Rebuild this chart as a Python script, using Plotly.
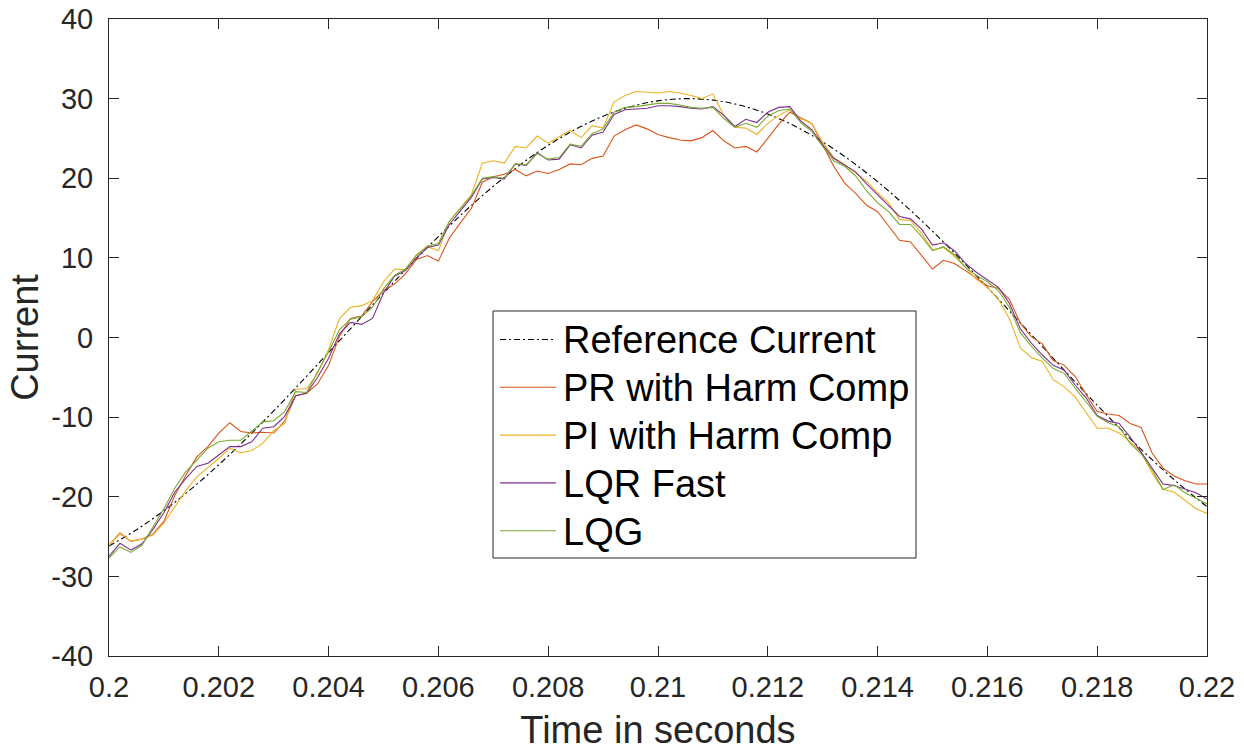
import numpy as np
import plotly.graph_objects as go

# sample instants (s)
t_ref = np.linspace(0.2, 0.22, 41)
t_meas = np.linspace(0.2, 0.22, 101)

ref_current = [-26.2, -24.15, -21.75, -19.01, -15.98, -12.70, -9.22, -5.60, -1.88, 1.86,
               5.57, 9.20, 12.68, 15.96, 18.99, 21.74, 24.14, 26.16, 27.79, 28.98,
               29.72, 30.00, 29.81, 29.16, 28.06, 26.52, 24.57, 22.24, 19.57, 16.59,
               13.35, 9.91, 6.31, 2.60, -1.13, -4.85, -8.50, -12.02, -15.35, -18.45, -21.25]

pr_harm = [-26.1, -24.6, -25.6, -25.3, -24.7, -23.1, -19.8, -17.3, -15.0, -13.7,
           -12.0, -10.7, -11.8, -12.0, -11.9, -12.0, -10.5, -7.3, -7.0, -5.8,
           -3.5, 0.2, 2.4, 2.7, 4.5, 5.9, 6.7, 8.0, 9.8, 10.3,
           9.6, 12.5, 14.4, 16.2, 19.5, 20.2, 20.5, 21.1, 20.3, 20.9,
           20.6, 21.1, 21.8, 21.7, 22.5, 22.8, 25.3, 26.1, 26.7, 26.2,
           25.5, 25.1, 24.8, 24.7, 25.1, 26.0, 24.7, 23.8, 24.0, 23.3,
           25.0, 26.8, 28.3, 27.6, 26.9, 24.2, 21.5, 19.4, 18.1, 16.6,
           15.8, 14.0, 12.2, 12.0, 10.3, 8.6, 9.7, 9.3, 8.4, 7.5,
           6.5, 6.2, 4.8, 1.8, 0.1, -0.8, -2.9, -3.5, -4.9, -7.2,
           -9.3, -9.6, -9.8, -10.8, -11.3, -14.5, -16.4, -17.4, -18.0, -18.4, -18.4]

pi_harm = [-26.1, -24.5, -25.6, -25.3, -24.8, -23.3, -21.25, -19.2, -17.5, -16.4,
           -15.2, -13.9, -14.5, -14.2, -13.3, -11.7, -10.8, -6.5, -6.4, -4.5,
           -1.5, 2.4, 3.8, 4.0, 4.6, 7.0, 8.6, 8.5, 10.4, 11.4,
           10.9, 14.6, 16.2, 17.9, 21.9, 22.2, 21.9, 24.0, 23.8, 25.3,
           24.4, 25.2, 26.0, 25.1, 26.6, 26.3, 29.6, 30.4, 30.9, 30.8,
           30.7, 30.9, 30.7, 30.4, 30.0, 30.6, 27.9, 26.4, 26.3, 25.5,
           26.9, 27.9, 28.6, 27.5, 26.9, 24.5, 22.6, 21.7, 20.7, 19.6,
           18.2, 16.9, 14.8, 14.7, 13.1, 11.0, 11.3, 10.2, 8.8, 7.3,
           6.3, 4.8, 2.4, -1.3, -2.5, -3.0, -5.3, -6.2, -7.5, -9.4,
           -11.4, -11.4, -12.0, -13.1, -14.4, -17.0, -19.1, -19.4, -20.5, -21.5, -22.1]

lqr_fast = [-27.5, -25.85, -26.7, -25.9, -24.1, -22.0, -19.4, -17.7, -16.2, -15.8,
            -14.75, -13.7, -13.7, -13.1, -11.4, -11.2, -9.9, -7.3, -7.0, -5.0,
            -2.6, 0.5, 1.9, 1.65, 2.4, 5.6, 7.7, 8.4, 10.0, 11.3,
            11.6, 14.2, 15.9, 17.6, 19.9, 20.1, 19.9, 21.8, 21.6, 23.2,
            22.3, 22.4, 24.2, 23.8, 25.4, 25.8, 28.0, 28.6, 28.7, 28.8,
            29.1, 29.1, 29.0, 28.8, 28.7, 29.0, 27.9, 26.5, 27.4, 27.0,
            28.3, 28.9, 29.0, 27.2, 26.1, 24.2, 22.5, 21.6, 20.8, 19.3,
            17.9, 16.6, 15.2, 14.9, 13.6, 11.6, 11.9, 10.9, 9.3, 8.2,
            7.3, 6.3, 4.3, 1.1, -0.7, -2.2, -3.5, -4.1, -6.0, -7.6,
            -9.8, -10.5, -10.8, -12.5, -14.4, -16.4, -18.4, -18.6, -19.1, -19.5, -20.3]

lqg = [-27.7, -26.3, -27.0, -26.1, -23.8, -21.5, -18.9, -16.85, -15.4, -13.9,
       -13.1, -12.9, -12.9, -11.8, -10.6, -10.45, -9.3, -6.8, -6.9, -4.3,
       -1.8, 1.0, 2.3, 2.6, 3.8, 6.1, 7.8, 8.6, 10.3, 11.5,
       11.8, 14.6, 16.2, 17.8, 20.0, 20.2, 20.0, 21.8, 21.7, 23.1,
       22.4, 22.6, 24.3, 24.0, 25.6, 26.2, 28.3, 28.9, 29.0, 29.2,
       29.4, 29.4, 29.2, 28.9, 28.8, 28.9, 27.5, 26.4, 26.9, 26.4,
       27.8, 28.5, 28.7, 27.0, 25.9, 24.0, 22.2, 21.5, 20.3, 18.4,
       16.9, 15.8, 14.2, 14.2, 12.7, 10.9, 11.4, 10.4, 8.8, 7.8,
       7.0, 5.9, 3.8, 0.6, -1.1, -2.6, -3.9, -4.5, -6.4, -8.1,
       -9.9, -10.7, -11.2, -13.3, -14.6, -16.6, -19.1, -18.5, -19.5, -20.2, -20.9]

x_ticks = [0.2, 0.202, 0.204, 0.206, 0.208, 0.21, 0.212, 0.214, 0.216, 0.218, 0.22]
x_tick_text = ["0.2", "0.202", "0.204", "0.206", "0.208", "0.21", "0.212", "0.214", "0.216", "0.218", "0.22"]
y_ticks = [-40, -30, -20, -10, 0, 10, 20, 30, 40]
y_tick_text = ["-40", "-30", "-20", "-10", "0", "10", "20", "30", "40"]

series_names = ["Reference Current", "PR with Harm Comp", "PI with Harm Comp", "LQR Fast", "LQG"]
series_colors = ["black", "#D95319", "#EDB120", "#7E2F8E", "#77AC30"]
series_dash = ["6px,3px,2px,3px", "solid", "solid", "solid", "solid"]

FONT = "Liberation Sans, Arial, Helvetica, sans-serif"
AX = "#262626"

W, H = 1244, 751
ML, MR, MT, MB = 109, 37, 19, 95
PW, PH = W - ML - MR, H - MT - MB


def px_x(px):
    return (px - ML) / PW


def px_y(py):
    return (H - MB - py) / PH


fig = go.Figure()
fig.add_trace(go.Scatter(x=t_ref, y=ref_current, mode="lines", name=series_names[0],
                         line=dict(color=series_colors[0], width=1.1, dash=series_dash[0], shape="spline")))
for name, col, ys in zip(series_names[1:], series_colors[1:], [pr_harm, pi_harm, lqr_fast, lqg]):
    fig.add_trace(go.Scatter(x=t_meas, y=ys, mode="lines", name=name,
                             line=dict(color=col, width=1.1)))

# MATLAB-style legend box
shapes = [dict(type="rect", xref="paper", yref="paper",
               x0=px_x(493), x1=px_x(916), y0=px_y(558), y1=px_y(311),
               fillcolor="white", line=dict(color=AX, width=1), layer="above")]
annotations = []
for i, (name, col, dsh) in enumerate(zip(series_names, series_colors, series_dash)):
    cy = 339.5 + 47.8 * i
    shapes.append(dict(type="line", xref="paper", yref="paper",
                       x0=px_x(500), x1=px_x(556), y0=px_y(cy), y1=px_y(cy),
                       line=dict(color=col, width=1.1, dash=dsh), layer="above"))
    annotations.append(dict(xref="paper", yref="paper", x=px_x(561), y=px_y(cy + 1),
                            xanchor="left", yanchor="middle", showarrow=False,
                            text=name, font=dict(size=38, color="black", family=FONT)))

fig.update_layout(
    width=W, height=H,
    margin=dict(l=ML, r=MR, t=MT, b=MB, autoexpand=False),
    paper_bgcolor="white", plot_bgcolor="white",
    font=dict(family=FONT, color=AX),
    showlegend=False,
    shapes=shapes,
    annotations=annotations,
)
fig.update_xaxes(range=[0.2, 0.22], tickvals=x_ticks, ticktext=x_tick_text,
                 ticks="inside", ticklen=10, tickwidth=1, tickcolor=AX,
                 showline=True, linecolor=AX, linewidth=1, mirror="ticks",
                 showgrid=False, zeroline=False, automargin=False, ticklabelstandoff=5,
                 tickfont=dict(size=29, color=AX, family=FONT),
                 title=dict(text="Time in seconds", font=dict(size=38, color=AX, family=FONT), standoff=21))
fig.update_yaxes(range=[-40, 40], tickvals=y_ticks, ticktext=y_tick_text,
                 ticks="inside", ticklen=10, tickwidth=1, tickcolor=AX,
                 showline=True, linecolor=AX, linewidth=1, mirror="ticks",
                 showgrid=False, zeroline=False, automargin=False, ticklabelstandoff=9,
                 tickfont=dict(size=29, color=AX, family=FONT),
                 title=dict(text="Current", font=dict(size=38, color=AX, family=FONT), standoff=0))

fig.write_html("out.html")
